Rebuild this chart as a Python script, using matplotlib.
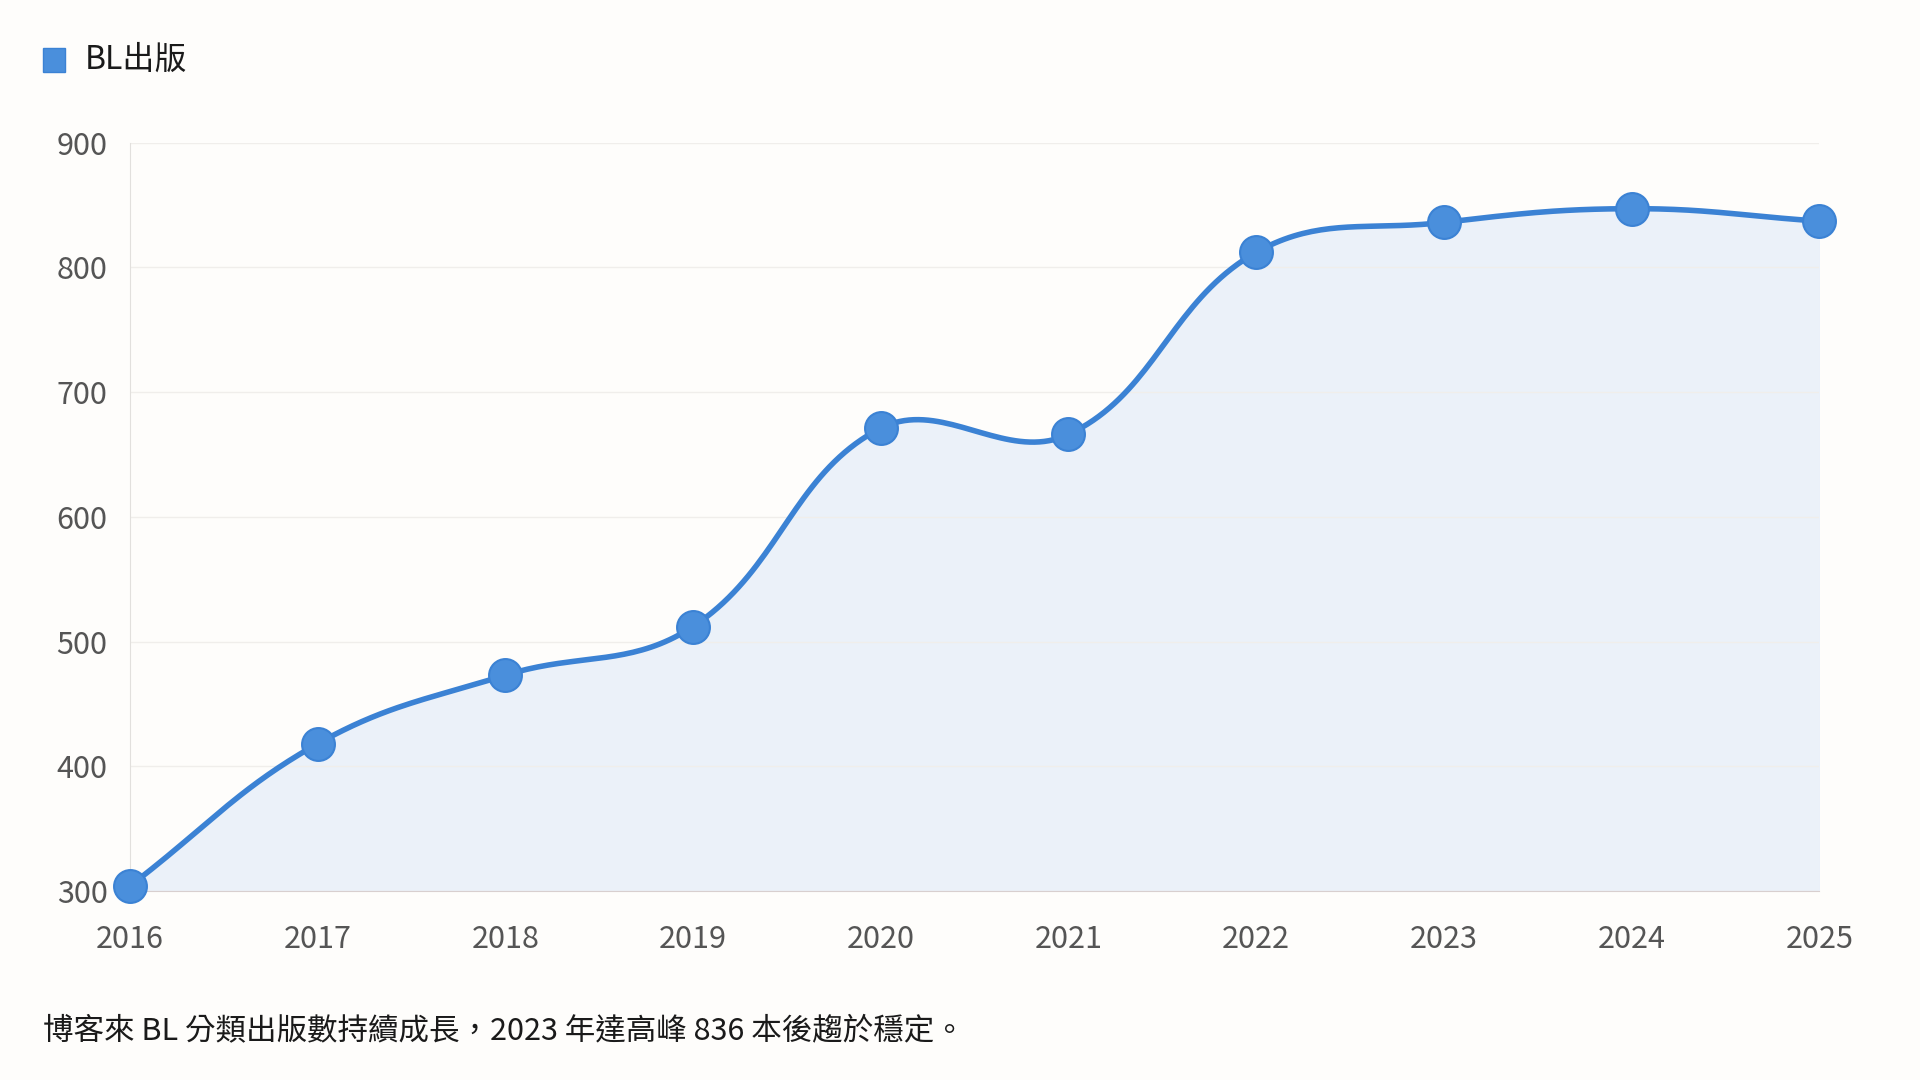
import numpy as np
import matplotlib
matplotlib.use("Agg")
import matplotlib.pyplot as plt
from matplotlib.patches import Rectangle

plt.rcParams['font.family'] = ['Noto Sans CJK TC', 'DejaVu Sans']

years = [2016, 2017, 2018, 2019, 2020, 2021, 2022, 2023, 2024, 2025]
counts = [304, 418, 473, 512, 671, 666, 812, 836, 847, 837]
series_name = "BL出版"
caption = "博客來 BL 分類出版數持續成長，2023 年達高峰 836 本後趨於穩定。"

LINE = "#3b82d4"
FILL = "#e9f0f9"
BG = "#fefdfb"


def spline(xs, ys, tension=0.4, sx=190.0, sy=1.26, n=40):
    """Chart.js style cubic bezier through the points (distances in pixel-ish units)."""
    px = np.asarray(xs, float) * sx
    py = np.asarray(ys, float) * sy
    m = len(px)
    cps = []
    for i in range(m):
        p = np.array([px[i], py[i]])
        prev = np.array([px[max(i - 1, 0)], py[max(i - 1, 0)]])
        nxt = np.array([px[min(i + 1, m - 1)], py[min(i + 1, m - 1)]])
        d01 = np.hypot(*(p - prev))
        d12 = np.hypot(*(nxt - p))
        s = d01 + d12 if d01 + d12 > 0 else 1
        fa, fb = tension * d01 / s, tension * d12 / s
        cps.append((p - fa * (nxt - prev), p + fb * (nxt - prev)))
    out_x, out_y = [], []
    t = np.linspace(0, 1, n)[:, None]
    for i in range(m - 1):
        p0 = np.array([px[i], py[i]])
        p3 = np.array([px[i + 1], py[i + 1]])
        c1 = cps[i][1]
        c2 = cps[i + 1][0]
        b = ((1 - t) ** 3) * p0 + 3 * ((1 - t) ** 2) * t * c1 + 3 * (1 - t) * t ** 2 * c2 + t ** 3 * p3
        out_x.append(b[:, 0] / sx)
        out_y.append(b[:, 1] / sy)
    return np.concatenate(out_x), np.concatenate(out_y)


fig = plt.figure(figsize=(19.2, 10.8), dpi=100, facecolor=BG)
ax = fig.add_axes([0.0676, 0.175, 0.880, 0.693])
ax.set_facecolor(BG)

cx, cy = spline(years, counts)
ax.fill_between(cx, cy, 300, color=FILL, alpha=0.9, zorder=1)
ax.plot(cx, cy, color=LINE, lw=4, zorder=2, solid_capstyle="round")
ax.scatter(years, counts, s=560, color="#4a8fdc", edgecolor=LINE, lw=1.5, zorder=3, clip_on=False)

ax.set_xlim(2016, 2025)
ax.set_ylim(300, 900)
ax.set_xticks(years)
ax.set_yticks(range(300, 901, 100))
ax.grid(axis="y", color="#f0eeeb", lw=1)
ax.tick_params(length=0, labelsize=22, labelcolor="#555555")
ax.tick_params(axis="x", pad=24)
ax.tick_params(axis="y", pad=16)
for s in ["top", "right"]:
    ax.spines[s].set_visible(False)
ax.spines["left"].set_color("#e2e0dd")
ax.spines["bottom"].set_color("#d8cfcf")

# legend
fig.patches.append(Rectangle((0.0225, 0.933), 0.0115, 0.0225, transform=fig.transFigure,
                             facecolor="#4a8fdc", edgecolor=LINE, lw=1))
fig.text(0.044, 0.945, series_name, fontsize=23, color="#1a1a1a", va="center", fontweight="medium")

fig.text(0.0225, 0.046, caption, fontsize=22, color="#1a1a1a", va="center")

fig.savefig("out.png", dpi=100, facecolor=BG)
